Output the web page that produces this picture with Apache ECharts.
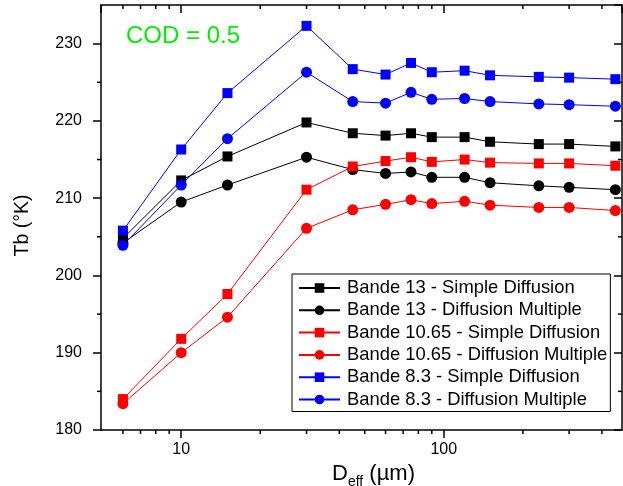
<!DOCTYPE html>
<html><head><meta charset="utf-8">
<script src="https://cdn.jsdelivr.net/npm/echarts@6/dist/echarts.min.js"></script>
<style>html,body{margin:0;padding:0;background:#fff}#c{width:623px;height:486px}</style>
</head><body><div id="c"></div>
<script>
// Data
const deff = [6, 10, 15, 30, 45, 60, 75, 90, 120, 150, 230, 300, 450];
const b13Simple   = [204.8, 212.3, 215.4, 219.8, 218.4, 218.1, 218.4, 217.9, 217.9, 217.3, 217.0, 217.0, 216.7];
const b13Multiple = [204.2, 209.5, 211.7, 215.3, 213.7, 213.2, 213.4, 212.7, 212.7, 212.0, 211.6, 211.4, 211.1];
const b1065Simple   = [184.0, 191.8, 197.6, 211.1, 214.1, 214.8, 215.3, 214.7, 215.0, 214.6, 214.5, 214.5, 214.2];
const b1065Multiple = [183.4, 190.0, 194.6, 206.1, 208.5, 209.2, 209.8, 209.3, 209.6, 209.1, 208.8, 208.8, 208.4];
const b83Simple   = [205.8, 216.3, 223.6, 232.3, 226.7, 226.0, 227.5, 226.3, 226.5, 225.9, 225.7, 225.6, 225.4];
const b83Multiple = [203.9, 211.7, 217.7, 226.3, 222.5, 222.3, 223.7, 222.8, 222.9, 222.5, 222.2, 222.1, 221.9];
const seriesNames = [
  'Bande 13 - Simple Diffusion',
  'Bande 13 - Diffusion Multiple',
  'Bande 10.65 - Simple Diffusion',
  'Bande 10.65 - Diffusion Multiple',
  'Bande 8.3 - Simple Diffusion',
  'Bande 8.3 - Diffusion Multiple'
];
const xMin = 4.95, xMax = 477;
const yMin = 180, yMax = 235;
const minorTicksX = [6, 7, 8, 9, 20, 30, 40, 50, 60, 70, 80, 90, 200, 300, 400];
const minorTicksY = [185, 195, 205, 215, 225];

const FONT = 'Liberation Sans, Arial, Helvetica, sans-serif';
const chart = echarts.init(document.getElementById('c'), null, {renderer: 'canvas'});

function mk(name, vals, color, symbol, size) {
  return {
    type: 'line', name: name,
    data: deff.map((x, i) => [x, vals[i]]),
    symbol: symbol, symbolSize: size,
    itemStyle: {color: color},
    lineStyle: {color: color, width: 1},
    emphasis: {disabled: true}
  };
}
const axisLine = {show: true, onZero: false, lineStyle: {color: '#000', width: 1.5}};

const option = {
  animation: false,
  backgroundColor: '#fff',
  title: {
    text: 'COD = 0.5', left: 126, top: 24, padding: 0,
    textStyle: {color: '#00f000', fontSize: 24, fontWeight: 'normal', fontFamily: FONT}
  },
  grid: {left: 101, right: 1, top: 5, bottom: 56, containLabel: false, outerBoundsMode: 'none'},
  legend: {
    orient: 'vertical', left: 292, top: 274,
    padding: [4, 3, 2, 6],
    borderColor: '#000', borderWidth: 1,
    itemWidth: 41, itemHeight: 12, itemGap: 2.3,
    textStyle: {fontSize: 18.4, lineHeight: 20, color: '#000', fontFamily: FONT, padding: [0, 0, 0, 2]},
    data: seriesNames
  },
  xAxis: [{
    type: 'log', min: xMin, max: xMax, position: 'bottom',
    name: '{a|D}{s|eff}{a| (µm)}', nameLocation: 'middle', nameGap: 28,
    nameTextStyle: {
      padding: [0, 0, 0, 24],
      rich: {
        a: {fontSize: 22, lineHeight: 22, fontFamily: FONT, color: '#000', verticalAlign: 'top'},
        s: {fontSize: 14, lineHeight: 14, fontFamily: FONT, color: '#000', verticalAlign: 'top', padding: [12, 0, 0, 0]}
      }
    },
    axisLine: axisLine,
    axisTick: {show: true, inside: false, length: 8, lineStyle: {color: '#000', width: 1.5}},
    axisLabel: {show: true, fontSize: 16, color: '#000', fontFamily: FONT, margin: 12, showMinLabel: false, showMaxLabel: false},
    splitLine: {show: false}
  }, {
    type: 'log', min: xMin, max: xMax, position: 'top',
    axisLine: axisLine,
    axisTick: {show: true, inside: true, length: 8, lineStyle: {color: '#000', width: 1.5}},
    axisLabel: {show: false},
    splitLine: {show: false}
  }],
  yAxis: [{
    type: 'value', min: yMin, max: yMax, interval: 10, position: 'left',
    name: 'Tb (°K)', nameLocation: 'middle', nameGap: 68, nameRotate: 90,
    nameTextStyle: {fontSize: 19.5, color: '#000', fontFamily: FONT, padding: [0, 16, 0, 0]},
    axisLine: axisLine,
    axisTick: {show: true, inside: false, length: 8, lineStyle: {color: '#000', width: 1.5}},
    axisLabel: {fontSize: 16, color: '#000', fontFamily: FONT, margin: 19, showMaxLabel: false},
    splitLine: {show: false}
  }, {
    type: 'value', min: yMin, max: yMax, interval: 10, position: 'right',
    axisLine: axisLine,
    axisTick: {show: true, inside: true, length: 8, lineStyle: {color: '#000', width: 1.5}},
    axisLabel: {show: false},
    splitLine: {show: false}
  }],
  series: [
    mk(seriesNames[0], b13Simple, '#000000', 'rect', 10),
    mk(seriesNames[1], b13Multiple, '#000000', 'circle', 11),
    mk(seriesNames[2], b1065Simple, '#ff0000', 'rect', 10),
    mk(seriesNames[3], b1065Multiple, '#ff0000', 'circle', 11),
    mk(seriesNames[4], b83Simple, '#0000ff', 'rect', 10),
    mk(seriesNames[5], b83Multiple, '#0000ff', 'circle', 11),
    {
      type: 'custom', name: 'minorX', silent: true, clip: false, z: 10,
      data: minorTicksX.map(v => [v, yMin]),
      renderItem: function (params, api) {
        const v = api.value(0);
        const b = api.coord([v, yMin]);
        const t = api.coord([v, yMax]);
        const st = {stroke: '#000', lineWidth: 1.5};
        return {type: 'group', children: [
          {type: 'line', shape: {x1: b[0], y1: b[1], x2: b[0], y2: b[1] + 4}, style: st},
          {type: 'line', shape: {x1: t[0], y1: t[1], x2: t[0], y2: t[1] + 4}, style: st}
        ]};
      }
    },
    {
      type: 'custom', name: 'minorY', silent: true, clip: false, z: 10,
      data: minorTicksY.map(v => [xMin, v]),
      renderItem: function (params, api) {
        const v = api.value(1);
        const l = api.coord([xMin, v]);
        const r = api.coord([xMax, v]);
        const st = {stroke: '#000', lineWidth: 1.5};
        return {type: 'group', children: [
          {type: 'line', shape: {x1: l[0], y1: l[1], x2: l[0] - 4, y2: l[1]}, style: st},
          {type: 'line', shape: {x1: r[0], y1: r[1], x2: r[0] - 4, y2: r[1]}, style: st}
        ]};
      }
    }
  ]
};
chart.setOption(option);
</script>
</body></html>
